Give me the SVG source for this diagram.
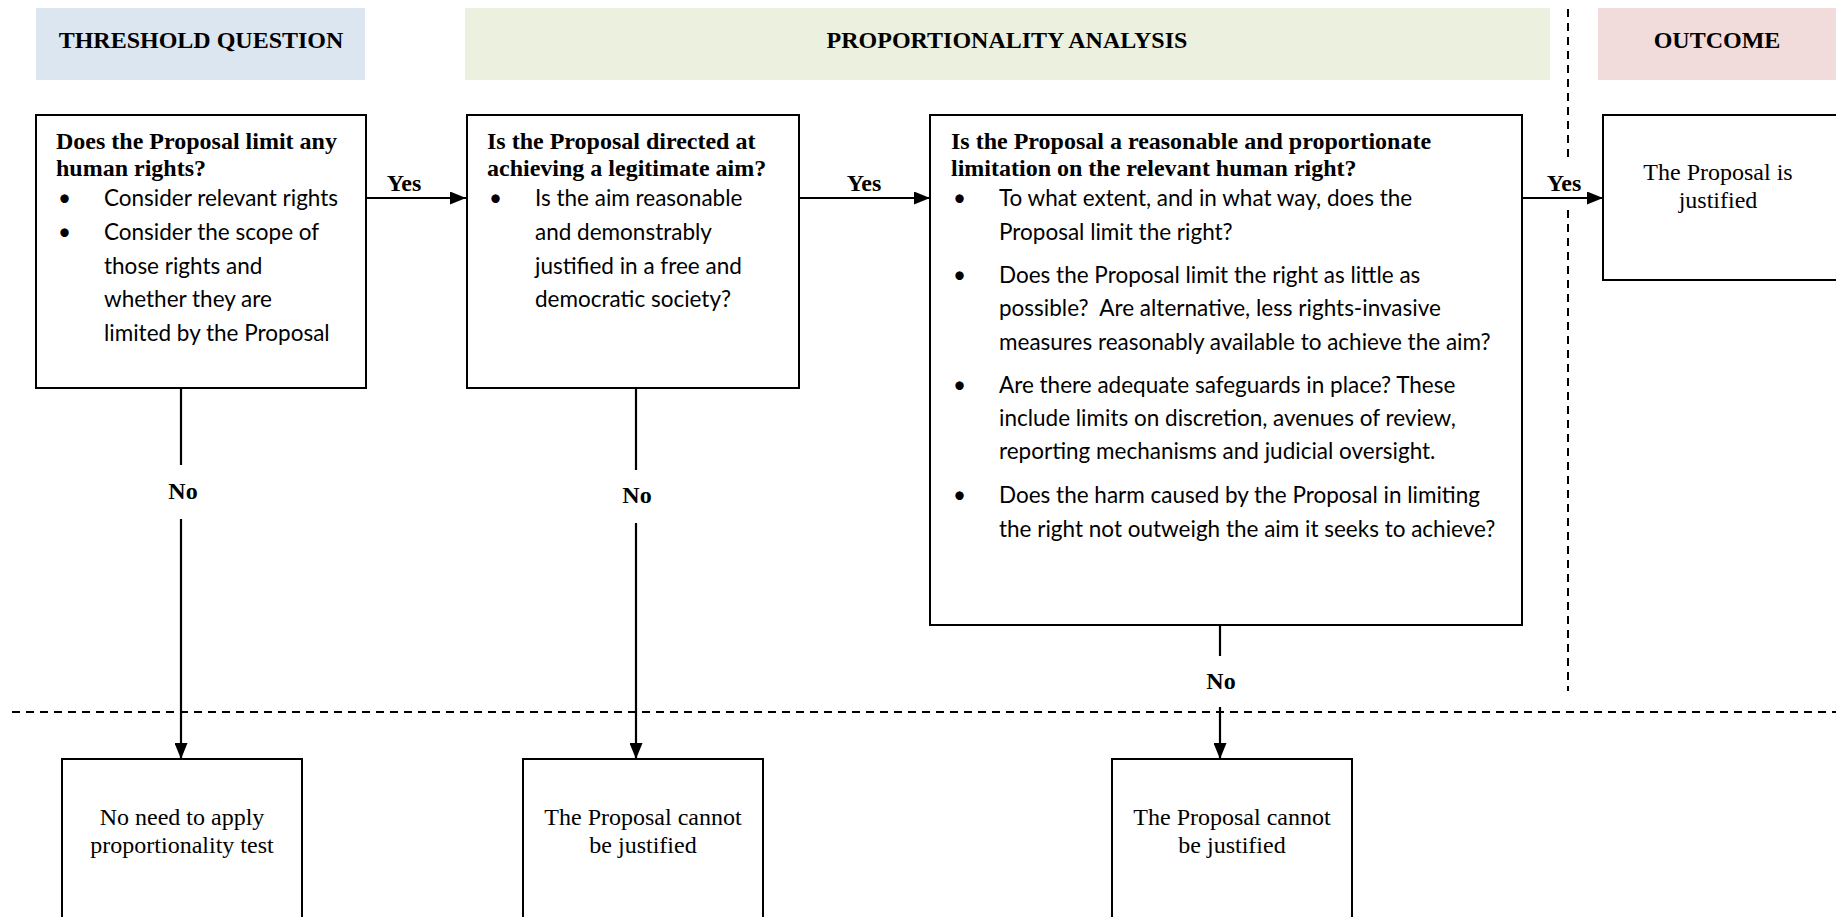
<svg xmlns="http://www.w3.org/2000/svg" width="1836" height="917" viewBox="0 0 1836 917">
<style>
.hdr{font-family:"Liberation Serif",serif;font-weight:bold;font-size:24px;text-anchor:middle;fill:#000}
.q{font-family:"Liberation Serif",serif;font-weight:bold;font-size:24px;fill:#000}
.b{font-family:Lato,"Open Sans",sans-serif;font-size:22.5px;fill:#000}
.t{font-family:"Liberation Serif",serif;font-size:24px;text-anchor:middle;fill:#000}
.lbl{font-family:"Liberation Serif",serif;font-weight:bold;font-size:24px;text-anchor:middle;fill:#000}
.box{fill:#fff;stroke:#000;stroke-width:2}
.ln{stroke:#000;stroke-width:2.2;fill:none}
.dash{stroke:#000;stroke-width:2;stroke-dasharray:8,6;fill:none}
</style>
<defs>
<marker id="arr" markerWidth="16" markerHeight="13" refX="16" refY="6.5" orient="auto" markerUnits="userSpaceOnUse">
<path d="M0,0 L16,6.5 L0,13 Z" fill="#000"/>
</marker>
</defs>
<g id="headers">
<rect x="36" y="8" width="329" height="72" fill="#dce6f1"/>
<text class="hdr" x="201" y="48">THRESHOLD QUESTION</text>
<rect x="465" y="8" width="1085" height="72" fill="#ebf1de"/>
<text class="hdr" x="1007" y="48">PROPORTIONALITY ANALYSIS</text>
<rect x="1598" y="8" width="238" height="72" fill="#f2dcdb"/>
<text class="hdr" x="1717" y="48">OUTCOME</text>
</g>
<g id="dividers">
<line class="dash" x1="1568" y1="9" x2="1568" y2="157"/>
<line class="dash" x1="1568" y1="210" x2="1568" y2="691"/>
<line class="dash" x1="12" y1="712" x2="1836" y2="712"/>
</g>
<g id="connectors">
<line class="ln" x1="366" y1="198" x2="466" y2="198" marker-end="url(#arr)"/>
<text class="lbl" x="404" y="191">Yes</text>
<line class="ln" x1="799" y1="198" x2="930" y2="198" marker-end="url(#arr)"/>
<text class="lbl" x="864" y="191">Yes</text>
<line class="ln" x1="1522" y1="198" x2="1603" y2="198" marker-end="url(#arr)"/>
<text class="lbl" x="1564" y="191">Yes</text>
<line class="ln" x1="181" y1="388" x2="181" y2="465"/>
<text class="lbl" x="183" y="499">No</text>
<line class="ln" x1="181" y1="519" x2="181" y2="759" marker-end="url(#arr)"/>
<line class="ln" x1="636" y1="388" x2="636" y2="470"/>
<text class="lbl" x="637" y="503">No</text>
<line class="ln" x1="636" y1="523" x2="636" y2="759" marker-end="url(#arr)"/>
<line class="ln" x1="1220" y1="625" x2="1220" y2="656"/>
<text class="lbl" x="1221" y="689">No</text>
<line class="ln" x1="1220" y1="707" x2="1220" y2="759" marker-end="url(#arr)"/>
</g>
<g id="node-threshold">
<rect class="box" x="36" y="115" width="330" height="273"/>
<text class="q" x="56" y="149">Does the Proposal limit any</text>
<text class="q" x="56" y="176">human rights?</text>
<text class="b"><tspan x="58" y="206">•</tspan><tspan x="104" y="206">Consider relevant rights</tspan></text>
<text class="b"><tspan x="58" y="240">•</tspan><tspan x="104" y="240">Consider the scope of</tspan></text>
<text class="b" x="104" y="274">those rights and</text>
<text class="b" x="104" y="307">whether they are</text>
<text class="b" x="104" y="341">limited by the Proposal</text>
</g>
<g id="node-aim">
<rect class="box" x="467" y="115" width="332" height="273"/>
<text class="q" x="487" y="149">Is the Proposal directed at</text>
<text class="q" x="487" y="176">achieving a legitimate aim?</text>
<text class="b"><tspan x="489" y="206">•</tspan><tspan x="535" y="206">Is the aim reasonable</tspan></text>
<text class="b" x="535" y="240">and demonstrably</text>
<text class="b" x="535" y="274">justified in a free and</text>
<text class="b" x="535" y="307">democratic society?</text>
</g>
<g id="node-proportionate">
<rect class="box" x="930" y="115" width="592" height="510"/>
<text class="q" x="951" y="149">Is the Proposal a reasonable and proportionate</text>
<text class="q" x="951" y="176">limitation on the relevant human right?</text>
<text class="b"><tspan x="953" y="206">•</tspan><tspan x="999" y="206">To what extent, and in what way, does the</tspan></text>
<text class="b" x="999" y="240">Proposal limit the right?</text>
<text class="b"><tspan x="953" y="283">•</tspan><tspan x="999" y="283">Does the Proposal limit the right as little as</tspan></text>
<text class="b" x="999" y="316" xml:space="preserve">possible?  Are alternative, less rights-invasive</text>
<text class="b" x="999" y="350">measures reasonably available to achieve the aim?</text>
<text class="b"><tspan x="953" y="393">•</tspan><tspan x="999" y="393">Are there adequate safeguards in place? These</tspan></text>
<text class="b" x="999" y="426">include limits on discretion, avenues of review,</text>
<text class="b" x="999" y="459">reporting mechanisms and judicial oversight.</text>
<text class="b"><tspan x="953" y="503">•</tspan><tspan x="999" y="503">Does the harm caused by the Proposal in limiting</tspan></text>
<text class="b" x="999" y="537">the right not outweigh the aim it seeks to achieve?</text>
</g>
<g id="node-justified">
<rect class="box" x="1603" y="115" width="240" height="165"/>
<text class="t" x="1718" y="180">The Proposal is</text>
<text class="t" x="1718" y="208">justified</text>
</g>
<g id="node-noneed">
<rect class="box" x="62" y="759" width="240" height="170"/>
<text class="t" x="182" y="825">No need to apply</text>
<text class="t" x="182" y="853">proportionality test</text>
</g>
<g id="node-cannot1">
<rect class="box" x="523" y="759" width="240" height="170"/>
<text class="t" x="643" y="825">The Proposal cannot</text>
<text class="t" x="643" y="853">be justified</text>
</g>
<g id="node-cannot2">
<rect class="box" x="1112" y="759" width="240" height="170"/>
<text class="t" x="1232" y="825">The Proposal cannot</text>
<text class="t" x="1232" y="853">be justified</text>
</g>
</svg>
